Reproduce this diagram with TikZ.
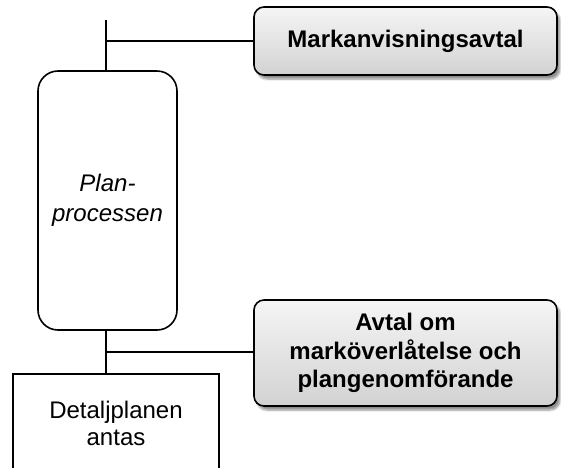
\documentclass[tikz,border=0pt]{standalone}
\usepackage{fontspec}
\setmainfont{Liberation Sans}
\usetikzlibrary{shadows.blur}
\begin{document}
\begin{tikzpicture}[x=1pt,y=-1pt,
  conn/.style={line width=1.8pt},
  agreebox/.style={draw, line width=1.6pt, rounded corners=10pt,
    top color=gray!8, bottom color=gray!35,
    blur shadow={shadow xshift=3pt, shadow yshift=-4pt, shadow blur steps=6, shadow opacity=45},
    minimum width=303pt, align=center, font=\fontsize{24}{28.5}\selectfont\bfseries, inner sep=0pt},
  planbox/.style={draw, line width=1.6pt, rounded corners=20pt, fill=white,
    minimum width=139pt, minimum height=259pt, align=center,
    font=\fontsize{24}{30}\selectfont\itshape, inner sep=0pt},
  decbox/.style={draw, line width=1.6pt, fill=white,
    minimum width=206pt, minimum height=98pt, align=center,
    font=\fontsize{24}{27}\selectfont, inner sep=0pt}
]
\useasboundingbox (0,0) rectangle (561,467);
\begin{scope}
\clip (0,0) rectangle (561,467);
\node[agreebox, minimum height=68pt] (mark) at (405.5,41) {Markanvisningsavtal};
\node[agreebox, minimum height=106pt] (avtal) at (405.5,353) {Avtal om\\marköverlåtelse och\\plangenomförande};
\node[planbox] (plan) at (107.5,200.5) {Plan-\\processen};
\node[decbox] (dec) at (116,423) {Detaljplanen\\antas};
\coordinate (top) at (106,20);
\draw[conn] (top) -- (top |- plan.north);
\draw[conn] (106,41) -- (mark.west);
\draw[conn] (plan.south -| top) -- (dec.north -| top);
\draw[conn] (106,352) -- (avtal.west |- 0,352);
\end{scope}
\end{tikzpicture}
\end{document}
